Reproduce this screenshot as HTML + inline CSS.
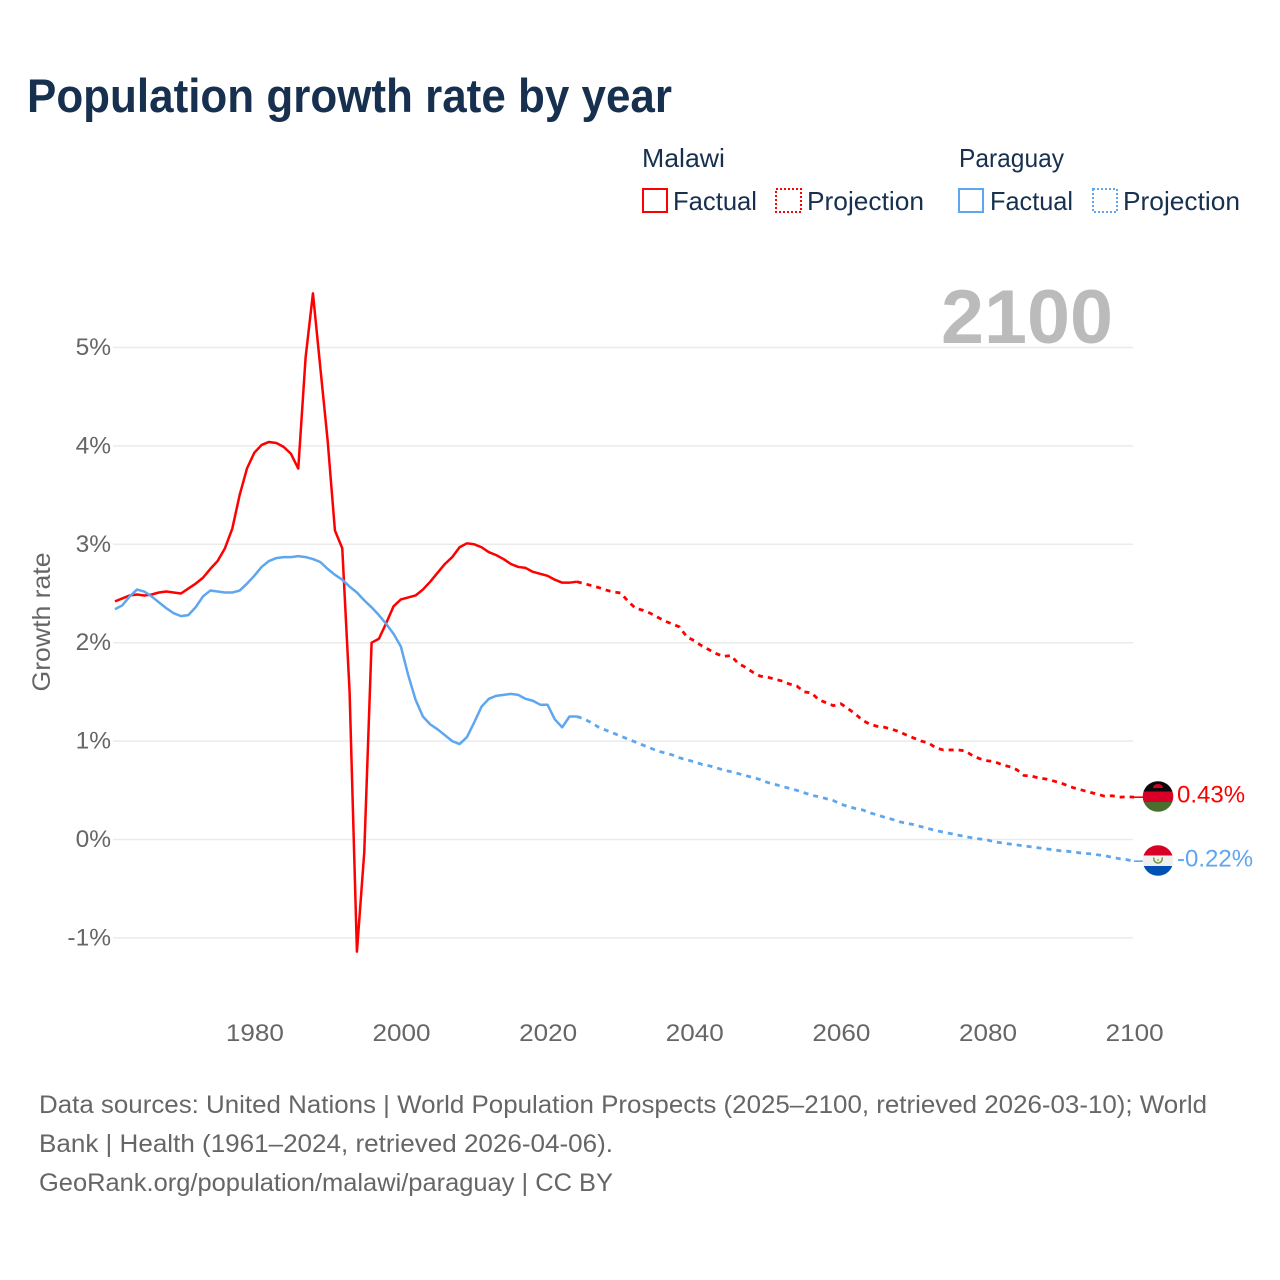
<!DOCTYPE html>
<html lang="en">
<head>
<meta charset="utf-8">
<title>Population growth rate by year</title>
<style>
html,body{margin:0;padding:0;background:#fff;}
svg{display:block;font-family:"Liberation Sans",sans-serif;}
.legend{font-size:26px;fill:#17304f;}
.foot{font-size:25px;fill:#666;}
.tick{font-size:24.5px;fill:#666;}
</style>
</head>
<body>
<svg id="chart" width="1280" height="1280" viewBox="0 0 1280 1280" xmlns="http://www.w3.org/2000/svg">
  <rect width="1280" height="1280" fill="#fff"/>
  <text x="27" y="112" font-size="47" font-weight="700" fill="#17304f" textLength="645" lengthAdjust="spacingAndGlyphs">Population growth rate by year</text>

  <g>
    <text class="legend" x="642" y="167" textLength="83" lengthAdjust="spacingAndGlyphs">Malawi</text>
    <rect x="643" y="189" width="24" height="23" fill="none" stroke="#ff0000" stroke-width="2"/>
    <text class="legend" x="673" y="210" textLength="84" lengthAdjust="spacingAndGlyphs">Factual</text>
    <rect x="776" y="189" width="25" height="23" fill="none" stroke="#ff0000" stroke-width="2" stroke-dasharray="2 2"/>
    <text class="legend" x="807" y="210" textLength="117" lengthAdjust="spacingAndGlyphs">Projection</text>
    <text class="legend" x="959" y="167" textLength="105" lengthAdjust="spacingAndGlyphs">Paraguay</text>
    <rect x="959" y="189" width="24" height="23" fill="none" stroke="#5ea6ee" stroke-width="2"/>
    <text class="legend" x="990" y="210" textLength="83" lengthAdjust="spacingAndGlyphs">Factual</text>
    <rect x="1093" y="189" width="24" height="23" fill="none" stroke="#5ea6ee" stroke-width="2" stroke-dasharray="2 2"/>
    <text class="legend" x="1123" y="210" textLength="117" lengthAdjust="spacingAndGlyphs">Projection</text>
  </g>

  <text transform="translate(50,622) rotate(-90)" text-anchor="middle" font-size="25" fill="#666" textLength="139" lengthAdjust="spacingAndGlyphs">Growth rate</text>

  <g id="grid"></g>
  <g id="ticks"></g>

  <text x="941" y="343" font-size="76" font-weight="700" fill="#bbbbbb" textLength="172" lengthAdjust="spacingAndGlyphs">2100</text>

  <g id="series"></g>

  <defs>
    <clipPath id="clip-mw"><circle cx="1158" cy="796.5" r="15.3"/></clipPath>
    <clipPath id="clip-py"><circle cx="1158" cy="860.5" r="15.3"/></clipPath>
  </defs>
  <g clip-path="url(#clip-mw)">
    <rect x="1142" y="781" width="32" height="10.5" fill="#0a0a0a"/>
    <rect x="1142" y="791.5" width="32" height="10.5" fill="#d80027"/>
    <rect x="1142" y="802" width="32" height="11" fill="#496e2d"/>
    <path d="M1153 788 a5 4 0 0 1 10 0 z" fill="#d80027"/>
  </g>
  <g clip-path="url(#clip-py)">
    <rect x="1142" y="845" width="32" height="10.5" fill="#d80027"/>
    <rect x="1142" y="855.5" width="32" height="10.5" fill="#f0f0f0"/>
    <rect x="1142" y="866" width="32" height="11" fill="#0052b4"/>
    <path d="M1154 857.5 a4.2 4.2 0 1 0 8 0" fill="none" stroke="#6da544" stroke-width="1.6"/>
    <circle cx="1158" cy="860" r="1.2" fill="#e8a0a0"/>
  </g>
  <g id="end-labels"></g>

  <g>
    <text class="foot" x="39" y="1113" textLength="1168" lengthAdjust="spacingAndGlyphs">Data sources: United Nations | World Population Prospects (2025–2100, retrieved 2026-03-10); World</text>
    <text class="foot" x="39" y="1152" textLength="574" lengthAdjust="spacingAndGlyphs">Bank | Health (1961–2024, retrieved 2026-04-06).</text>
    <text class="foot" x="39" y="1191" textLength="574" lengthAdjust="spacingAndGlyphs">GeoRank.org/population/malawi/paraguay | CC BY</text>
  </g>
</svg>
<script>
const firstYear = 1961;
const lastFactualYear = 2024;
const xTickYears = [1980, 2000, 2020, 2040, 2060, 2080, 2100];
const yTickValues = [5, 4, 3, 2, 1, 0, -1];

const malawiFactual = [2.42,2.45,2.48,2.49,2.48,2.49,2.51,2.52,2.51,2.50,2.55,2.60,2.66,2.75,2.83,2.96,3.16,3.50,3.77,3.93,4.01,4.04,4.03,3.99,3.92,3.77,4.90,5.55,4.80,4.06,3.14,2.96,1.50,-1.14,-0.13,2.00,2.04,2.20,2.37,2.44,2.46,2.48,2.54,2.62,2.71,2.80,2.87,2.97,3.01,3.00,2.97,2.92,2.89,2.85,2.80,2.77,2.76,2.72,2.70,2.68,2.64,2.61,2.61,2.62];
const malawiProjection = [2.60,2.58,2.56,2.535,2.515,2.505,2.42,2.35,2.33,2.30,2.26,2.22,2.19,2.16,2.06,2.02,1.97,1.93,1.89,1.86,1.87,1.79,1.75,1.70,1.66,1.65,1.63,1.61,1.58,1.56,1.50,1.49,1.42,1.39,1.36,1.38,1.33,1.275,1.21,1.17,1.15,1.14,1.12,1.095,1.06,1.03,1.00,0.98,0.93,0.91,0.91,0.91,0.90,0.85,0.82,0.80,0.79,0.76,0.74,0.71,0.65,0.645,0.625,0.615,0.595,0.575,0.545,0.52,0.50,0.48,0.46,0.44,0.445,0.43,0.435,0.43];
const paraguayFactual = [2.34,2.38,2.47,2.54,2.52,2.47,2.41,2.35,2.30,2.27,2.28,2.36,2.47,2.53,2.52,2.51,2.51,2.53,2.60,2.68,2.77,2.83,2.86,2.87,2.87,2.88,2.87,2.85,2.82,2.75,2.69,2.64,2.57,2.51,2.43,2.36,2.28,2.19,2.09,1.96,1.67,1.42,1.25,1.17,1.12,1.06,1.00,0.97,1.04,1.19,1.35,1.43,1.46,1.47,1.48,1.47,1.43,1.41,1.37,1.37,1.22,1.14,1.25,1.25];
const paraguayProjection = [1.225,1.185,1.14,1.11,1.08,1.05,1.02,0.99,0.96,0.93,0.90,0.88,0.86,0.83,0.81,0.79,0.765,0.75,0.73,0.705,0.69,0.67,0.65,0.63,0.61,0.58,0.56,0.54,0.52,0.50,0.475,0.45,0.435,0.415,0.395,0.36,0.335,0.315,0.30,0.27,0.25,0.225,0.205,0.18,0.165,0.15,0.13,0.11,0.09,0.075,0.06,0.045,0.03,0.015,0.005,-0.005,-0.025,-0.035,-0.045,-0.055,-0.065,-0.075,-0.085,-0.095,-0.105,-0.115,-0.12,-0.13,-0.14,-0.145,-0.155,-0.165,-0.18,-0.195,-0.205,-0.22];

const NS = 'http://www.w3.org/2000/svg';
const RED = '#ff0000';
const BLUE = '#5ea6ee';
function xScale(year) { return 115 + (year - 1961) * 7.331; }
function yScale(value) { return 839.5 - value * 98.4; }
function make(tag, parent, attrs) {
  const el = document.createElementNS(NS, tag);
  for (const k in attrs) el.setAttribute(k, attrs[k]);
  parent.appendChild(el);
  return el;
}
function coords(year, value) {
  return xScale(year).toFixed(2) + ' ' + yScale(value).toFixed(2);
}
const grid = document.getElementById('grid');
const ticks = document.getElementById('ticks');
const series = document.getElementById('series');
const endLabels = document.getElementById('end-labels');

yTickValues.forEach(function (v) {
  const line = make('line', grid, { x1: 113, x2: 1133, y1: yScale(v), y2: yScale(v), stroke: '#ebebeb', 'stroke-width': 1.5 });
  
  
  const label = make('text', ticks, { x: 111, y: yScale(v) + 7.5, 'text-anchor': 'end', class: 'tick' });
  
  
  label.textContent = v + '%';
});
xTickYears.forEach(function (year) {
  const label = make('text', ticks, { x: xScale(year) + 0.6 - 29, y: 1041, class: 'tick', textLength: 58, lengthAdjust: 'spacingAndGlyphs' });
  
  
  label.textContent = year;
});

function drawSeries(factual, projection, color, key) {
  const projStart = lastFactualYear + 1;
  const lastF = factual[factual.length - 1];
  const lastP = projection[projection.length - 1];
  const base = { fill: 'none', stroke: color, 'stroke-width': 2.5, 'stroke-linejoin': 'round' };

  let projD = 'M' + coords(lastFactualYear, lastF);
  projection.forEach(function (v, i) { projD += 'L' + coords(projStart + i, v); });
  const proj = make('path', series, base);
  proj.setAttribute('d', projD);
  proj.setAttribute('stroke-dasharray', '5 5');
  proj.setAttribute('stroke-width', '2.8');
  
  

  let factD = '';
  factual.forEach(function (v, i) { factD += (i ? 'L' : 'M') + coords(firstYear + i, v); });
  const fact = make('path', series, base);
  fact.setAttribute('d', factD);
  
  

  const conn = make('line', series, { x1: xScale(2100), x2: 1143, y1: yScale(lastP), y2: yScale(lastP), stroke: color, 'stroke-width': 1.6 });
  
  

  const label = make('text', endLabels, { x: 1177, y: yScale(lastP) + 5.5, fill: color, 'font-size': 24 });
  
  
  label.textContent = lastP.toFixed(2) + '%';
}
drawSeries(malawiFactual, malawiProjection, RED, 'malawi');
drawSeries(paraguayFactual, paraguayProjection, BLUE, 'paraguay');
</script>
</body>
</html>
